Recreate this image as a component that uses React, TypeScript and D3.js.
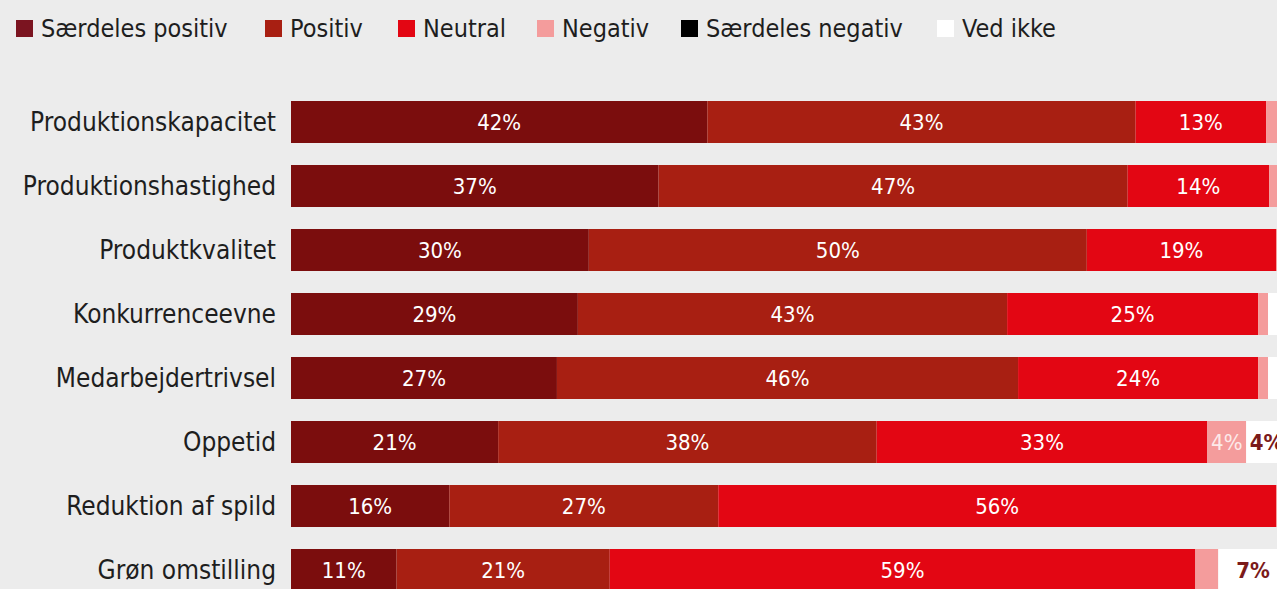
import React from 'react';
import * as d3 from 'd3';

const categories = [
  'Produktionskapacitet',
  'Produktionshastighed',
  'Produktkvalitet',
  'Konkurrenceevne',
  'Medarbejdertrivsel',
  'Oppetid',
  'Reduktion af spild',
  'Grøn omstilling',
];

const seriesNames = ['Særdeles positiv', 'Positiv', 'Neutral', 'Negativ', 'Særdeles negativ', 'Ved ikke'];

// values per series, one per category (percent)
const saerdelesPositiv = [41.8, 36.9, 29.9, 28.8, 26.7, 20.8, 15.9, 10.6];
const positiv = [43.0, 47.1, 50.0, 43.1, 46.3, 38.0, 27.0, 21.4];
const neutral = [13.1, 14.2, 19.0, 25.2, 24.1, 33.2, 56.0, 58.8];
const negativ = [1.1, 1.2, 1.1, 1.0, 1.0, 3.9, 1.1, 2.3];
const saerdelesNegativ = [0, 0, 0, 0, 0, 0, 0, 0];
const vedIkke = [1.0, 0.6, 0, 1.9, 1.9, 4.1, 0, 7.0];

const colors = ['#7b0d0d', '#a81f12', '#e30613', '#f49c9c', '#000000', '#ffffff'];
const labelColors = ['#ffffff', '#ffffff', '#ffffff', '#fdeaea', '#ffffff', '#7b1a1a'];

const width = 1277;
const height = 589;
const font = '"DejaVu Sans Condensed", "Liberation Sans Narrow", Roboto, sans-serif';

export default function App() {
  const allSeries = [saerdelesPositiv, positiv, neutral, negativ, saerdelesNegativ, vedIkke];
  const rows = categories.map((c, i) => {
    const r: any = { category: c };
    seriesNames.forEach((s, j) => (r[s] = allSeries[j][i]));
    return r;
  });
  const stacked = d3.stack().keys(seriesNames)(rows);

  const x = d3.scaleLinear().domain([0, 100]).range([291, 1287]);
  const y = d3.scaleBand().domain(categories).range([90, 602]).paddingInner(0.34375).paddingOuter(0.171875);
  const fmt = d3.format('.0f');

  // legend swatch positions
  const legendX = [16, 265, 398, 537, 681, 937];

  return (
    <svg width={width} height={height} style={{ position: 'absolute', left: 0, top: 0, display: 'block' }} fontFamily={font}>
      <rect width={width} height={height} fill="#ececec" />
      {seriesNames.map((s, i) => (
        <g key={s} transform={`translate(${legendX[i]},20)`}>
          <rect width={17} height={17} fill={i === 0 ? '#7b1420' : colors[i]} />
          <text x={25} y={17} fontSize={25} fill="#1e1e1e">{s}</text>
        </g>
      ))}
      {categories.map((c) => (
        <text key={c} x={276} y={(y(c) as number) + y.bandwidth() / 2} dy="0.33em" textAnchor="end" fontSize={26} fill="#1e1e1e">
          {c}
        </text>
      ))}
      {stacked.map((layer, i) => (
        <g key={layer.key} fill={colors[i]}>
          {layer.map((d: any) => (
            <rect
              key={d.data.category}
              x={x(d[0])}
              y={y(d.data.category)}
              width={Math.max(0, x(d[1]) - x(d[0]))}
              height={y.bandwidth()}
            />
          ))}
        </g>
      ))}
      {stacked.map((layer, i) => (
        <g key={layer.key + '-lbl'} fill={labelColors[i]} fontSize={22} textAnchor="middle">
          {layer
            .filter((d: any) => d[1] - d[0] >= 3)
            .map((d: any) => (
              <text
                key={d.data.category}
                x={(x(d[0]) + x(d[1])) / 2}
                y={(y(d.data.category) as number) + y.bandwidth() / 2}
                dy="0.36em"
                fontWeight={i === 5 ? 'bold' : 'normal'}
              >
                {fmt(d[1] - d[0])}%
              </text>
            ))}
        </g>
      ))}
    </svg>
  );
}
